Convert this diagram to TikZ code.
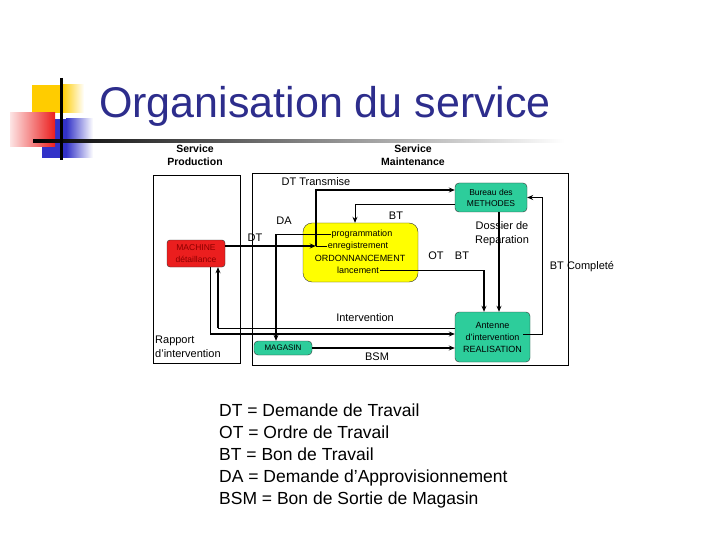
\documentclass[tikz,border=0pt]{standalone}
\usepackage{fontspec}
\setmainfont{Liberation Sans}
\usepackage{tikz}
\usetikzlibrary{arrows,arrows.meta,positioning,calc}
\definecolor{orgbleu}{RGB}{45,45,140}
\definecolor{orgjaune}{RGB}{255,204,0}
\definecolor{orgrouge}{RGB}{235,30,30}
\definecolor{orgbleuvif}{RGB}{50,50,200}
\definecolor{orgvert}{RGB}{45,205,155}
\definecolor{orgjauneboite}{RGB}{255,255,0}
\definecolor{orgrougefonce}{RGB}{140,0,0}
\tikzset{
  flux/.style={->, >={Stealth[length=6pt,width=5pt]}, line width=2.3pt},
  fluxtrait/.style={line width=2.3pt},
  fluxfin/.style={line width=0.8pt},
  fluxfinfl/.style={->, >={Stealth[length=6pt,width=5pt]}, line width=0.8pt},
  cadre/.style={draw=black, line width=0.8pt},
  boitevert/.style={
    rectangle, rounded corners=4pt, draw=black!80, fill=orgvert,
    align=center, inner sep=0pt, font=\fontsize{8.5}{11}\selectfont
  },
  boitemachine/.style={
    rectangle, rounded corners=3pt, draw=black!80, fill=orgrouge,
    minimum width=58pt, minimum height=27pt, align=center, inner sep=0pt,
    text=orgrougefonce, font=\fontsize{8.5}{11.5}\selectfont
  },
  boiteordo/.style={
    rectangle, rounded corners=9pt, draw=black!80, fill=orgjauneboite,
    minimum width=115pt, minimum height=59pt
  },
  ligneordo/.style={inner sep=1pt, font=\fontsize{9}{11}\selectfont},
  lbl/.style={inner sep=0pt, align=center, font=\fontsize{11}{14}\selectfont},
  service/.style={inner sep=0pt, align=center,
    font=\bfseries\fontsize{10.5}{13.5}\selectfont}
}
\begin{document}
\begin{tikzpicture}[x=1pt, y=-1pt]
  \useasboundingbox (0,0) rectangle (720,540);
  % decor du titre
  \fill[orgjaune] (32,85) rectangle (62,113);
  \shade[left color=orgjaune, right color=white] (62,85) rectangle (84,113);
  \fill[orgbleuvif] (42,119) rectangle (66,158);
  \shade[left color=orgbleuvif, right color=white] (66,119) rectangle (93,158);
  \shade[left color=orgrouge!12, right color=orgrouge] (10,113) rectangle (55,147);
  \shade[left color=black, right color=white] (33,139.5) rectangle (565,142.5);
  \draw[line width=3pt] (61,78) -- (61,160);
  \node[anchor=base west, inner sep=0pt, text=orgbleu,
        font=\fontsize{43}{50}\selectfont] (titre) at (99,118) {Organisation du service};

  \node[service] (prod) at (195,155) {Service\\Production};
  \node[service] (maint) at (413,155) {Service\\Maintenance};

  % cadres des deux services
  \draw[cadre] (153,175) rectangle (240,363);
  \draw[cadre] (252,173) rectangle (568,365);

  \node[boitemachine] (machine) at (196,253.5) {MACHINE\\détaillance};
  \node[boiteordo] (ordo) at (360.5,252.5) {};
  \node[ligneordo] (prog) at (362,234) {programmation};
  \node[ligneordo] (enreg) at (358,246) {enregistrement};
  \node[ligneordo] (ordon) at (360,258) {ORDONNANCEMENT};
  \node[ligneordo] (lanc) at (358,270) {lancement};
  \node[boitevert, minimum width=72pt, minimum height=29pt] (bureau) at (491,197.5) {Bureau des\\METHODES};
  \node[boitevert, minimum width=75pt, minimum height=50pt,
        font=\fontsize{9}{12}\selectfont] (antenne) at (492.5,337) {Antenne\\d'intervention\\REALISATION};
  \node[boitevert, minimum width=58pt, minimum height=14pt,
        font=\fontsize{8}{10}\selectfont] (magasin) at (283,348) {MAGASIN};

  \node[lbl] (ldtt) at (316,182) {DT Transmise};
  \node[lbl] (lda) at (284,221) {DA};
  \node[lbl] (ldt) at (255,238) {DT};
  \node[lbl] (lbt) at (396,216) {BT};
  \node[lbl] (lot) at (436,256) {OT};
  \node[lbl] (lbt2) at (462,256) {BT};
  \node[lbl] (ldos) at (502,234) {Dossier de\\Reparation};
  \node[lbl] (lbtc) at (582,267) {BT Completé};
  \node[lbl] (linter) at (365,318) {Intervention};
  \node[lbl] (lbsm) at (377,357) {BSM};
  \node[lbl, anchor=west, align=left] (lrap) at (155,347) {Rapport\\d'intervention};

  \coordinate (dtc) at ([xshift=-11pt]enreg.west);
  \coordinate (dac) at ([xshift=-7pt]magasin.north |- prog.west);
  \coordinate (otc) at ([xshift=-8.5pt]antenne.north |- lanc.east);
  \coordinate (machA) at ([xshift=22pt]machine.south);
  \coordinate (machB) at ([xshift=14pt]machine.south);
  \coordinate (antA) at ([yshift=9pt]antenne.west);
  \coordinate (antB) at ([yshift=3pt]antenne.west);

  \draw[flux] (machine.east |- enreg.west) -- (dtc);
  \draw[fluxfin] (enreg.west) -- (dtc);
  \draw[flux] (dtc) |- ([yshift=7.5pt]bureau.west);
  \draw[fluxfinfl] ([yshift=-6.5pt]bureau.west) -| ([xshift=-5.5pt]ordo.north);
  \draw[fluxfin] (prog.west) -- (dac);
  \draw[flux] (dac) -- ([xshift=-7pt]magasin.north);
  \draw[flux] ([xshift=8pt]bureau.south) -- ([xshift=8pt]bureau.south |- antenne.north);
  \draw[fluxfin] (lanc.east) -- (otc);
  \draw[flux] (otc) -- ([xshift=-8.5pt]antenne.north);
  \draw[fluxfinfl] ([xshift=-7pt,yshift=3pt]antenne.east) -- ++(19,0) |- (bureau.east);
  \draw[fluxfin] (antA) -- (machA |- antA);
  \draw[flux] (machA |- antA) -- (machA);
  \draw[fluxfin] (machB) -- (machB |- antB);
  \draw[flux] (machB |- antB) -- (antB);
  \draw[flux] (magasin.east) -- (antenne.west |- magasin.east);

  \node[anchor=west, align=left, inner sep=0pt,
        font=\fontsize{17.5}{21.8}\selectfont] (legende) at (219,456)
    {DT = Demande de Travail\\OT = Ordre de Travail\\BT = Bon de Travail\\DA = Demande d’Approvisionnement\\BSM = Bon de Sortie de Magasin};
\end{tikzpicture}
\end{document}
